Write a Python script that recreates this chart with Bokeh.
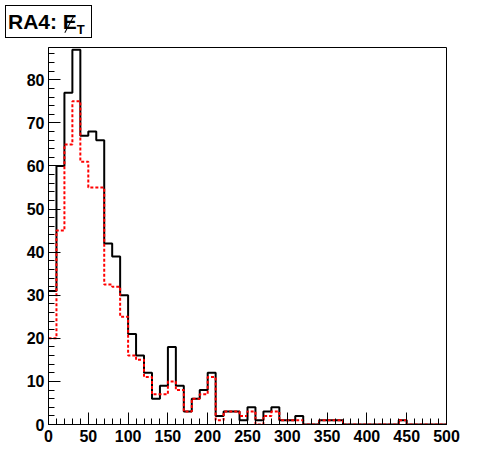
from bokeh.plotting import figure
from bokeh.models import Range1d, FixedTicker, Div
from bokeh.layouts import column
from bokeh.embed import file_html
from bokeh.resources import INLINE

# MET bins (GeV), width 10
bin_edges = list(range(0, 510, 10))

black_counts = [31, 60, 77, 87, 67, 68, 66, 42, 39, 30,
                21, 16, 12, 6, 9, 18, 9, 3, 6, 8,
                12, 2, 3, 3, 1, 4, 1, 3, 4, 1,
                1, 2, 0, 0, 1, 1, 1, 0, 0, 0,
                0, 0, 0, 0, 1, 0, 0, 0, 0, 0]

red_counts = [20, 45, 65, 75, 61, 55, 55, 32.5, 32, 25,
              16, 15, 11, 7, 7, 10, 8, 3, 6, 7,
              11, 1, 3, 3, 2, 3, 0, 2, 3, 1,
              1, 1, 0, 0, 1, 1, 1, 0, 0, 0,
              0, 0, 0, 0, 1, 0, 0, 0, 0, 0]

x_major = [0, 50, 100, 150, 200, 250, 300, 350, 400, 450, 500]
x_minor = list(range(0, 501, 10))
y_major = [0, 10, 20, 30, 40, 50, 60, 70, 80]
y_minor = list(range(0, 88, 2))

W, H = 496, 472
HEAD = 40                              # height of the title strip
FL, FT, FR, FB = 48, 47, 446, 424      # frame edges in page pixels

p = figure(width=W, height=H - HEAD, output_backend="svg", toolbar_location=None,
           x_range=Range1d(0, 500), y_range=Range1d(0, 87.5),
           min_border_left=FL, min_border_right=W - FR,
           min_border_top=FT - HEAD, min_border_bottom=H - FB,
           background_fill_color="white", border_fill_color="white",
           margin=(0, 0, 0, 0))

p.xgrid.visible = False
p.ygrid.visible = False
p.outline_line_color = "black"
p.outline_line_width = 1
p.outline_line_alpha = 1.0

for ax, maj, mn in ((p.xaxis, x_major, x_minor), (p.yaxis, y_major, y_minor)):
    ax.ticker = FixedTicker(ticks=maj, minor_ticks=mn)
    ax.major_tick_in = 12
    ax.major_tick_out = 0
    ax.minor_tick_in = 6
    ax.minor_tick_out = 0
    ax.axis_line_color = "black"
    ax.major_tick_line_color = "black"
    ax.minor_tick_line_color = "black"
    ax.major_label_text_font = "Liberation Sans"
    ax.major_label_text_font_style = "bold"
    ax.major_label_text_font_size = "16px"
    ax.major_label_text_color = "black"
p.xaxis.major_label_standoff = 5
p.yaxis.major_label_standoff = 4

xs = bin_edges
yb = black_counts + [black_counts[-1]]
yr = red_counts + [red_counts[-1]]
p.step(xs, yb, mode="after", line_color="black", line_width=2)
p.step(xs, yr, mode="after", line_color="red", line_width=2, line_dash="3 2")

# title box: "RA4: E-slash-T" (missing transverse energy); the slash is a drawn stroke
title_html = (
    '<div style="margin:5px 0 0 5px; width:87px; height:33px; border:1px solid #000; '
    'box-sizing:border-box; background:#fff; white-space:nowrap; color:#000; '
    "font-family:'Liberation Sans'; font-weight:bold; font-size:21px; "
    'line-height:22px; padding:5px 0 0 2px;">'
    'RA4: <span style="position:relative; display:inline-block;">E'
    '<span style="position:absolute; left:6px; top:3px; width:0px; height:20px; '
    'border-left:1.5px solid #000; transform:rotate(28deg);"></span></span>'
    '<span style="font-size:13px; position:relative; top:5px;">T</span></div>'
)
head = Div(text=title_html, width=W, height=HEAD, margin=(0, 0, 0, 0))

layout = column(head, p, spacing=0, margin=(0, 0, 0, 0))

open("out.html", "w").write(file_html(layout, INLINE))
